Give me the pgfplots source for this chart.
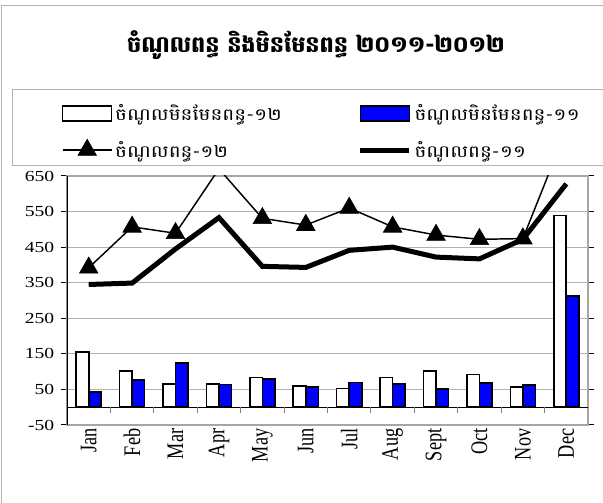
\documentclass[border=0pt]{standalone}
\usepackage{fontspec}
\usepackage{graphicx}
\usepackage{pgfplots}
\pgfplotsset{compat=1.18}
\setmainfont{Liberation Serif}[FakeStretch=1.28]
\newfontfamily\plainserif{Liberation Serif}
\newfontfamily\khmer[Script=Khmer,FakeStretch=1.2]{Battambang}
\newfontfamily\khmertitle[Script=Khmer]{Battambang}
\newcommand\ml[1]{\scalebox{1}[1.3]{\plainserif #1}}
\definecolor{barblue}{RGB}{0,0,255}
\pgfplotsset{
  barleg/.style={legend image code/.code={\draw[##1] (0pt,-5.6pt) rectangle (36.75pt,5.6pt);}},
  markleg/.style={legend image code/.code={\draw[mark repeat=2,mark phase=2,##1] plot coordinates {(0pt,0pt) (18.4pt,0pt) (36.75pt,0pt)};}},
  lineleg/.style={legend image code/.code={\draw[##1] (0pt,0pt) -- (36.75pt,0pt);}},
}
\begin{document}
\begin{tikzpicture}
\useasboundingbox (0pt,0pt) rectangle (452.25pt,377.25pt);
\begin{scope}[x=0.75pt,y=0.75pt]
\fill[white] (0,0) rectangle (603,503);
\draw[gray!60, line width=0.75pt] (1,-10) rectangle (640,497);
\node[font=\khmertitle\bfseries\fontsize{16.8}{20}\selectfont] at (316,458) {ចំណូលពន្ធ និងមិនមែនពន្ធ ២០១១-២០១២};
\draw[gray!60, line width=0.75pt] (12,337) rectangle (640,413);
\end{scope}
\begin{axis}[
  at={(50.25pt,58.5pt)}, anchor=south west,
  width=390.75pt, height=186.75pt, scale only axis,
  xmin=-0.5, xmax=11.5, ymin=-50, ymax=650,
  ytick={-50,50,...,650},
  xtick={0,...,11},
  xticklabels={\ml{Jan},\ml{Feb},\ml{Mar},\ml{Apr},\ml{May},\ml{Jun},\ml{Jul},\ml{Aug},\ml{Sept},\ml{Oct},\ml{Nov},\ml{Dec}},
  xticklabel style={yshift=3pt, rotate=90, anchor=east, font=\fontsize{13.7}{14}\selectfont, inner sep=1pt},
  yticklabel style={font=\fontsize{11.5}{11.5}\selectfont, xshift=-1.5pt},
  /pgf/number format/assume math mode=true,
  x tick style={draw=none},
  y tick style={black, line width=0.75pt},
  tick align=outside, major tick length=4.5pt,
  ymajorgrids, grid style={gray!60, line width=0.75pt},
  axis line style={gray!70, line width=1pt},
  legend style={draw=none, fill=none, at={(-0.018,1.31)}, anchor=north west,
    font=\khmer\fontsize{12.5}{14}\selectfont, row sep=10pt,
    /tikz/column 2/.style={column sep=55pt},
    /tikz/every odd column/.append style={column sep=0pt}},
  legend columns=2, legend cell align=left,
]
\addplot[ybar, bar width=9.4pt, bar shift=-4.7pt, fill=white, draw=black, line width=1.2pt, barleg]
  coordinates {(0,155) (1,102) (2,66) (3,66) (4,84) (5,60) (6,53) (7,84) (8,101) (9,92) (10,56) (11,539)};
\addlegendentry{ចំណូលមិនមែនពន្ធ-១២}
\addplot[ybar, bar width=9.4pt, bar shift=4.7pt, fill=barblue, draw=black, line width=1.2pt, barleg]
  coordinates {(0,43) (1,76) (2,125) (3,64) (4,79) (5,56) (6,69) (7,66) (8,52) (9,68) (10,63) (11,313)};
\addlegendentry{ចំណូលមិនមែនពន្ធ-១១}
\addplot[black, line width=1.1pt, mark=triangle*, mark size=8pt, mark options={solid, fill=black, line width=0.5pt}, markleg]
  coordinates {(0,392) (1,507) (2,489) (3,670) (4,531) (5,512) (6,560) (7,507) (8,484) (9,472) (10,474) (11,780)};
\addlegendentry{ចំណូលពន្ធ-១២}
\addplot[black, line width=3.75pt, no markers, lineleg]
  coordinates {(0,345) (1,349) (2,445) (3,533) (4,396) (5,393) (6,441) (7,450) (8,422) (9,417) (10,472) (11,628)};
\addlegendentry{ចំណូលពន្ធ-១១}
\draw[black, line width=1pt] (axis cs:-0.5,0) -- (axis cs:11.5,0);
\draw[gray, line width=0.75pt] (axis cs:0.5,0) -- ++(0pt,-4.5pt);
\draw[gray, line width=0.75pt] (axis cs:1.5,0) -- ++(0pt,-4.5pt);
\draw[gray, line width=0.75pt] (axis cs:2.5,0) -- ++(0pt,-4.5pt);
\draw[gray, line width=0.75pt] (axis cs:3.5,0) -- ++(0pt,-4.5pt);
\draw[gray, line width=0.75pt] (axis cs:4.5,0) -- ++(0pt,-4.5pt);
\draw[gray, line width=0.75pt] (axis cs:5.5,0) -- ++(0pt,-4.5pt);
\draw[gray, line width=0.75pt] (axis cs:6.5,0) -- ++(0pt,-4.5pt);
\draw[gray, line width=0.75pt] (axis cs:7.5,0) -- ++(0pt,-4.5pt);
\draw[gray, line width=0.75pt] (axis cs:8.5,0) -- ++(0pt,-4.5pt);
\draw[gray, line width=0.75pt] (axis cs:9.5,0) -- ++(0pt,-4.5pt);
\draw[gray, line width=0.75pt] (axis cs:10.5,0) -- ++(0pt,-4.5pt);
\draw[black, line width=1pt] (rel axis cs:0,0) -- (rel axis cs:0,1);
\end{axis}
\end{tikzpicture}
\end{document}
